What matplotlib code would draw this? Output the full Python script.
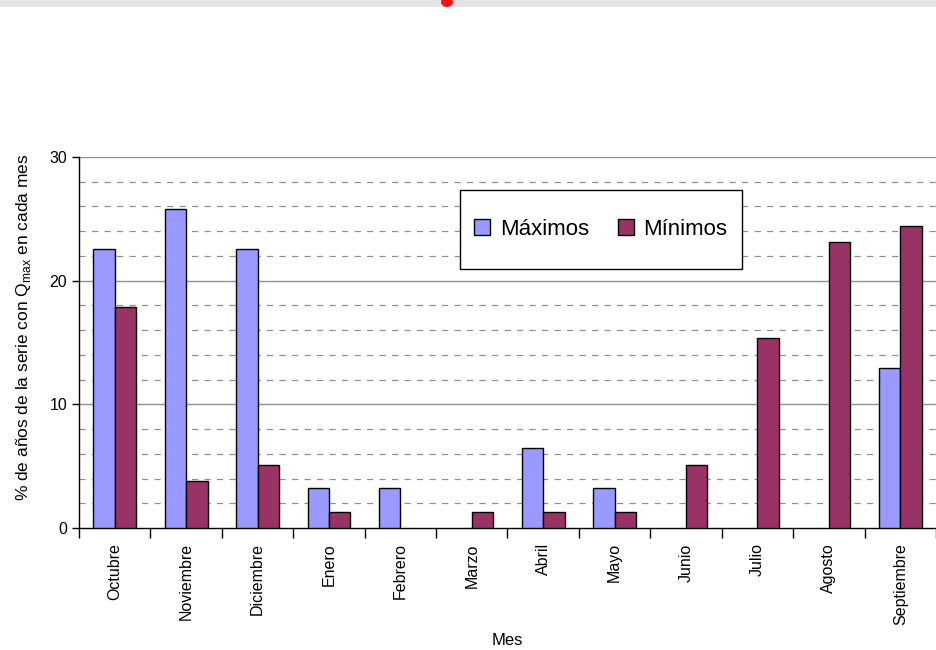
import numpy as np
import matplotlib
matplotlib.use('Agg')
from matplotlib import pyplot as plt
from matplotlib.patches import Rectangle, Ellipse

plt.rcParams['font.family'] = ['Liberation Sans', 'DejaVu Sans']

meses = ['Octubre', 'Noviembre', 'Diciembre', 'Enero', 'Febrero', 'Marzo',
         'Abril', 'Mayo', 'Junio', 'Julio', 'Agosto', 'Septiembre']
maximos = [22.6, 25.8, 22.6, 3.2, 3.2, 0, 6.5, 3.2, 0, 0, 0, 12.9]
minimos = [17.9, 3.8, 5.1, 1.3, 0, 1.3, 1.3, 1.3, 5.1, 15.4, 23.1, 24.4]

fig = plt.figure(figsize=(9.36, 6.5), dpi=100)
ax = fig.add_axes([79 / 936, 122 / 650, 1 - 79 / 936, 371 / 650])

# gray strip at the top of the page
fig.patches.append(Rectangle((0, 1 - 7 / 650), 1, 7 / 650, transform=fig.transFigure,
                             facecolor='#e4e4e4', edgecolor='none', zorder=0))
fig.patches.append(Ellipse((447 / 936, 1 - 2 / 650), 12 / 936, 10 / 650, transform=fig.transFigure,
                           facecolor='#ff1010', edgecolor='none', zorder=1))

x = np.arange(len(meses))
w = 0.3
ax.bar(x - w / 2, maximos, w, color='#9999ff', edgecolor='black',
       linewidth=[1 if v > 0 else 0 for v in maximos], label='Máximos', zorder=3)
ax.bar(x + w / 2, minimos, w, color='#993366', edgecolor='black',
       linewidth=[1 if v > 0 else 0 for v in minimos], label='Mínimos', zorder=3)

ax.set_xlim(-0.5, len(meses) - 0.5)
ax.set_ylim(0, 30)

# grid lines
for v in range(2, 30, 2):
    if v % 10 == 0:
        continue
    ax.axhline(v, color='#909090', linestyle=(0, (5, 5)), linewidth=0.9, zorder=1)
for v in (10, 20, 30):
    ax.axhline(v, color='#909090', linestyle='-', linewidth=1, zorder=1)

ax.set_yticks([0, 10, 20, 30])
ax.set_xticks(np.arange(len(meses) + 1) - 0.5)
ax.set_xticklabels([])
ax.set_xticks(x, minor=True)
ax.set_xticklabels(meses, minor=True, rotation=90, fontsize=11.5)
ax.tick_params(axis='x', which='major', direction='out', length=7, width=1)
ax.tick_params(axis='x', which='minor', length=0, pad=11)
ax.tick_params(axis='y', direction='out', length=5, width=1, labelsize=11.5)

for s in ('top', 'right'):
    ax.spines[s].set_visible(False)
ax.spines['left'].set_linewidth(1)
ax.spines['bottom'].set_linewidth(1)

ax.set_ylabel('% de años de la serie con Q$_{\\mathregular{max}}$ en cada mes', fontsize=12.5)
ax.yaxis.set_label_coords(-0.054, 0.542)
ax.set_xlabel('Mes', fontsize=12)
ax.xaxis.set_label_coords(0.5, -0.282)

# legend box, pixel coordinates measured from the top
bx0, bx1, by0, by1 = 460, 742, 190, 269
box = Rectangle((bx0, 650 - by1), bx1 - bx0, by1 - by0, transform=None,
                facecolor='white', edgecolor='black', linewidth=1, zorder=4)
ax.add_artist(box)
leg = ax.legend(loc='center', bbox_to_anchor=((bx0 + bx1) / 2 / 936, 1 - (by0 + by1) / 2 / 650),
                bbox_transform=fig.transFigure, ncol=2, fontsize=16, frameon=False,
                handlelength=0.7, handleheight=0.7, handletextpad=0.45, columnspacing=1.3,
                borderpad=0)
leg.set_zorder(5)

fig.savefig('out.png', dpi=100)
